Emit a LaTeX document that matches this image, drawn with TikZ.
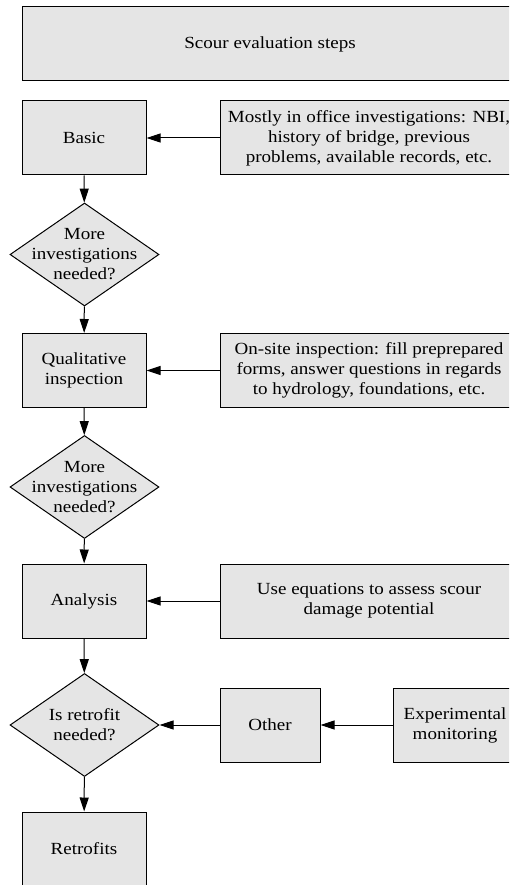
\documentclass[tikz,border=0pt]{standalone}
\usepackage{fontspec}
\setmainfont{Liberation Serif}[FakeStretch=1.12]
\usetikzlibrary{shapes.geometric,arrows.meta}
\definecolor{boxgray}{gray}{0.90}
\begin{document}
\begin{tikzpicture}[x=1pt,y=-1pt,
  font=\fontsize{17}{20}\selectfont,
  every node/.style={inner sep=0pt},
  box/.style={draw,line width=1pt,fill=boxgray,align=center,minimum height=74pt},
  stepbox/.style={box,minimum width=124pt},
  notebox/.style={box,minimum width=298pt},
  decision/.style={draw,line width=1pt,fill=boxgray,diamond,aspect=1.45,
    minimum width=149pt,minimum height=103pt},
  flow/.style={line width=1pt,-{Triangle[length=14pt,width=9pt]}}]
\useasboundingbox (0,0) rectangle (509,885);
\clip (0,0) rectangle (509,885);

% header
\node[box,minimum width=496pt] (title) at (270,44) {Scour evaluation steps};

% main column
\node[stepbox] (basic) at (84,138) {Basic};
\node[decision,label={[align=center]center:More\\investigations\\needed?}] (d1) at (84.5,254.5) {};
\node[stepbox] (qual) at (84,370.5) {Qualitative\\inspection};
\node[decision,label={[align=center]center:More\\investigations\\needed?}] (d2) at (84.5,487) {};
\node[stepbox] (anal) at (84,601) {Analysis};
\node[decision,label={[align=center]center:Is retrofit\\needed?}] (d3) at (84.5,725) {};
\node[stepbox] (retro) at (84,849) {Retrofits};

% side notes
\node[notebox] (n1) at (369,138) {Mostly in office investigations: NBI,\\history of bridge, previous\\problems, available records, etc.};
\node[notebox] (n2) at (369,370.5) {On-site inspection: fill preprepared\\forms, answer questions in regards\\to hydrology, foundations, etc.};
\node[notebox] (n3) at (369,601) {Use equations to assess scour\\damage potential};
\node[box,minimum width=100pt] (other) at (270,725) {Other};
\node[box,minimum width=124pt] (exp) at (455,725) {Experimental\\monitoring};

% connectors
\draw[flow] (basic) -- (d1);
\draw[flow] (d1) -- (qual);
\draw[flow] (qual) -- (d2);
\draw[flow] (d2) -- (anal);
\draw[flow] (anal) -- (d3);
\draw[flow] (d3) -- (retro);
\draw[flow] (n1) -- (basic);
\draw[flow] (n2) -- (qual);
\draw[flow] (n3) -- (anal);
\draw[flow] (other) -- (d3);
\draw[flow] (exp) -- (other);
\end{tikzpicture}
\end{document}
